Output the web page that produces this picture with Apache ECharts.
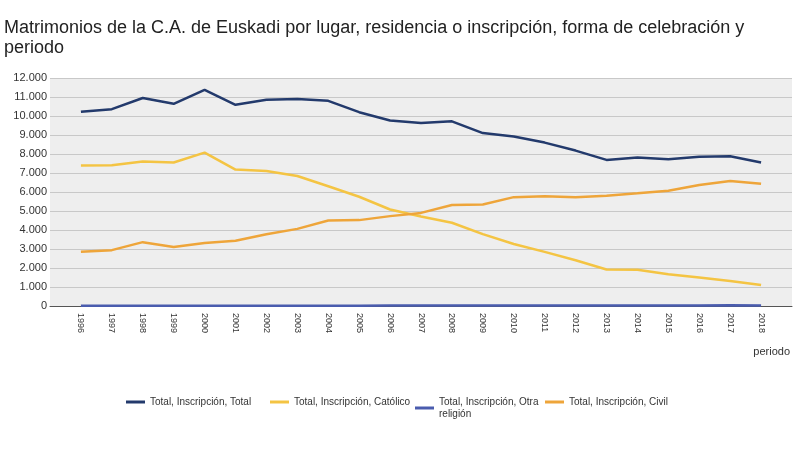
<!DOCTYPE html>
<html>
<head>
<meta charset="utf-8">
<script src="https://cdn.jsdelivr.net/npm/echarts@6/dist/echarts.min.js"></script>
<style>html,body{margin:0;padding:0;background:#fff}#c{width:800px;height:462px}</style>
</head>
<body>
<div id="c"></div>
<script>
const years = [1996,1997,1998,1999,2000,2001,2002,2003,2004,2005,2006,2007,2008,2009,2010,2011,2012,2013,2014,2015,2016,2017,2018];
const totalVals = [10230,10360,10950,10640,11380,10590,10860,10890,10800,10200,9760,9630,9720,9100,8920,8600,8180,7690,7810,7730,7860,7880,7550];
const catolicoVals = [7390,7410,7600,7550,8070,7180,7100,6840,6300,5750,5080,4710,4380,3780,3260,2850,2410,1920,1910,1670,1500,1320,1110];
const otraVals = [10,12,10,12,14,12,14,16,15,18,20,22,25,25,24,22,20,22,24,26,30,40,30];
const civilVals = [2850,2940,3360,3100,3320,3430,3780,4060,4500,4520,4730,4900,5320,5340,5730,5770,5730,5800,5930,6070,6370,6580,6440];
const yTicks = [0,1000,2000,3000,4000,5000,6000,7000,8000,9000,10000,11000,12000];

const names = ['Total, Inscripción, Total','Total, Inscripción, Católico','Total, Inscripción, Otra religión','Total, Inscripción, Civil'];
const colors = ['#233a6c','#f4c443','#4a5cae','#eea53a'];
const seriesVals = [totalVals, catolicoVals, otraVals, civilVals];

function fmt(v){ return String(v).replace(/\B(?=(\d{3})+(?!\d))/g, '.'); }

const chart = echarts.init(document.getElementById('c'), null, {renderer:'canvas'});
const legendLefts = [126, 270, 415, 545];
chart.setOption({
  animation:false,
  backgroundColor:'#ffffff',
  textStyle:{fontFamily:'Liberation Sans, Arial, sans-serif'},
  title:{
    text:'Matrimonios de la C.A. de Euskadi por lugar, residencia o inscripción, forma de celebración y\nperiodo',
    left:4, top:18, padding:0,
    textStyle:{fontSize:18, fontWeight:'normal', color:'#222', lineHeight:20, fontFamily:'Liberation Sans, Arial, sans-serif'}
  },
  legend: names.map((n,i)=>({
    data:[n], left:legendLefts[i], top:396, orient:'horizontal', padding:0,
    icon:'rect', itemWidth:19, itemHeight:3, itemGap:4,
    selectedMode:false,
    formatter: name => name === names[2] ? 'Total, Inscripción, Otra\nreligión' : name,
    textStyle:{fontSize:10, color:'#333', lineHeight:12}
  })),
  grid:{left:50, right:8, top:78, bottom:156, show:true, backgroundColor:'#eeeeee', borderWidth:0},
  xAxis:{
    type:'value', min:1995, max:2019, interval:1,
    axisLine:{show:true, lineStyle:{color:'#555', width:1}},
    axisTick:{show:false},
    splitLine:{show:false},
    axisLabel:{rotate:-90, fontSize:9, color:'#333', margin:7, showMinLabel:false, showMaxLabel:false,
      formatter: v => (years.indexOf(v) >= 0 ? String(v) : '')}
  },
  yAxis:{
    type:'value', min:yTicks[0], max:yTicks[yTicks.length-1], interval:1000,
    axisLine:{show:false}, axisTick:{show:false},
    splitLine:{show:true, lineStyle:{color:'#c8c8c8', width:1}},
    axisLabel:{fontSize:11, color:'#333', margin:3, formatter: v => fmt(v)}
  },
  graphic:[{
    type:'text', right:10, top:346,
    style:{text:'periodo', fontSize:11, fill:'#333', fontFamily:'Liberation Sans, Arial, sans-serif'}
  }],
  series: names.map((n,i)=>({
    name:n, type:'line', symbol:'none', showSymbol:false,
    data: years.map((y,k)=>[y, seriesVals[i][k]]),
    lineStyle:{color:colors[i], width:2.5},
    itemStyle:{color:colors[i]},
    z: i===2 ? 3 : 2
  }))
});
</script>
</body>
</html>
